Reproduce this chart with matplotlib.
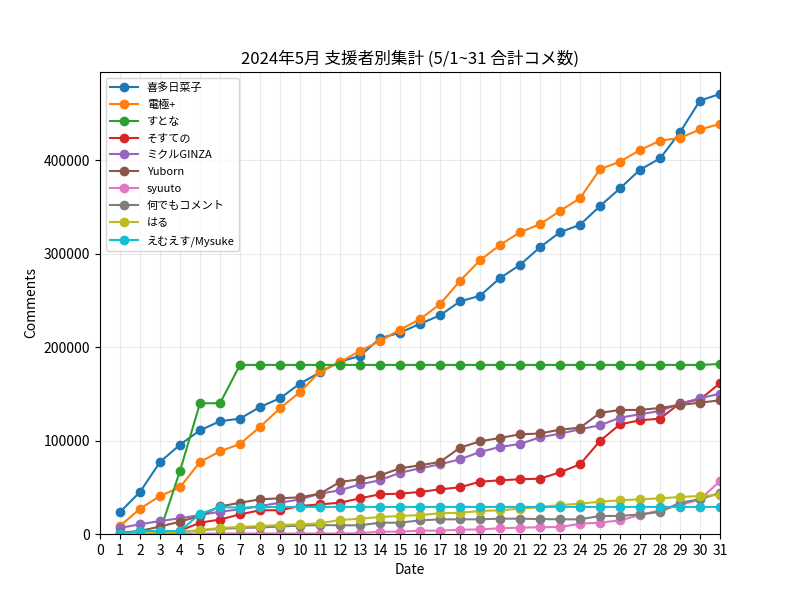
import matplotlib as mpl
mpl.use('Agg')
import matplotlib.pyplot as plt

plt.rcParams['font.family'] = ['Noto Sans CJK JP', 'DejaVu Sans']

days = list(range(1, 32))

names = ["喜多日菜子", "電極+", "すとな", "そすての", "ミクルGINZA",
         "Yuborn", "syuuto", "何でもコメント", "はる", "えむえす/Mysuke"]

kita = [23500, 45000, 77000, 95600, 111000, 120700, 123500, 136000, 145300, 161000,
        173000, 184500, 190600, 209500, 215500, 225000, 234000, 249000, 255000, 274000,
        288000, 307000, 323000, 331000, 351000, 370000, 390000, 402000, 430000, 464000, 471000]
denkyoku = [8600, 27000, 40700, 50000, 77100, 88500, 96400, 114600, 134600, 152000,
            174000, 184000, 196000, 206600, 218700, 230000, 246000, 271000, 293000, 309400,
            323000, 331600, 345800, 359400, 390500, 398600, 411000, 421000, 424000, 433000, 439000]
sutona = [0, 500, 3000, 67500, 140000, 140000, 181000, 181000, 181000, 181000,
          181000, 181000, 181000, 181000, 181000, 181000, 181000, 181000, 181000, 181000,
          181000, 181000, 181000, 181000, 181000, 181000, 181000, 181000, 181000, 181000, 182000]
sosuteno = [500, 1000, 2000, 3500, 12100, 15500, 21000, 25400, 25400, 30000,
            31700, 33500, 38200, 42500, 43200, 45000, 47800, 50000, 56000, 57500,
            58600, 59200, 66000, 74600, 99600, 117400, 121700, 123500, 140000, 144000, 161400]
mikuru = [6500, 10400, 13900, 16800, 20300, 23900, 26400, 30000, 33500, 37100,
          43200, 46800, 53200, 57500, 65600, 70300, 74600, 80000, 87800, 93200,
          96400, 103500, 107400, 112100, 116400, 124500, 128200, 131700, 139500, 145300, 150200]
yuborn = [1400, 3200, 8000, 13200, 19300, 29500, 33500, 37100, 38200, 39300,
          43200, 55700, 58600, 62800, 70300, 73600, 77100, 92400, 99200, 102800,
          106700, 107600, 111700, 113800, 129600, 132800, 132800, 134900, 138100, 140600, 143100]
syuuto = [500, 500, 500, 500, 500, 500, 500, 500, 500, 500,
          500, 500, 800, 2500, 2500, 3600, 3600, 4600, 4900, 6100,
          6800, 7200, 7500, 11000, 12100, 14600, 20300, 25400, 31000, 37000, 56700]
nandemo = [500, 1000, 1500, 2000, 4000, 5500, 6500, 7000, 8000, 9000,
           9600, 9300, 9300, 12100, 12100, 14600, 15700, 15700, 15700, 16400,
           16400, 16000, 15700, 15700, 19300, 19300, 21000, 23600, 33500, 37100, 44200]
haru = [500, 1000, 1500, 2000, 4000, 6500, 7500, 8600, 9600, 10400,
        11400, 15000, 16400, 18200, 19300, 20300, 22100, 22800, 24600, 25400,
        27100, 28700, 31000, 32400, 34600, 36100, 37100, 38200, 39600, 40700, 41800]
mysuke = [500, 3200, 3200, 3200, 21500, 28900, 28200, 28900, 28900, 29000,
          29000, 29000, 29000, 29000, 29000, 29000, 29000, 29000, 29000, 29000,
          29000, 29000, 29000, 29000, 29000, 29000, 29000, 29000, 29000, 29000, 29000]

series = [kita, denkyoku, sutona, sosuteno, mikuru, yuborn, syuuto, nandemo, haru, mysuke]

fig = plt.figure(figsize=(8, 6), dpi=100)
ax = fig.add_subplot(111)
for name, vals in zip(names, series):
    ax.plot(days, vals, marker='o', label=name)

ax.set_xticks(range(0, 32))
ax.set_xlim(0, 31)
ax.set_ylim(bottom=0)
ax.grid(True, alpha=0.25)
ax.set_title("2024年5月 支援者別集計 (5/1~31 合計コメ数)")
ax.set_xlabel("Date")
ax.set_ylabel("Comments")
ax.legend(loc='upper left', fontsize=8, handlelength=2.5, labelspacing=0.62)
fig.savefig('out.png')
